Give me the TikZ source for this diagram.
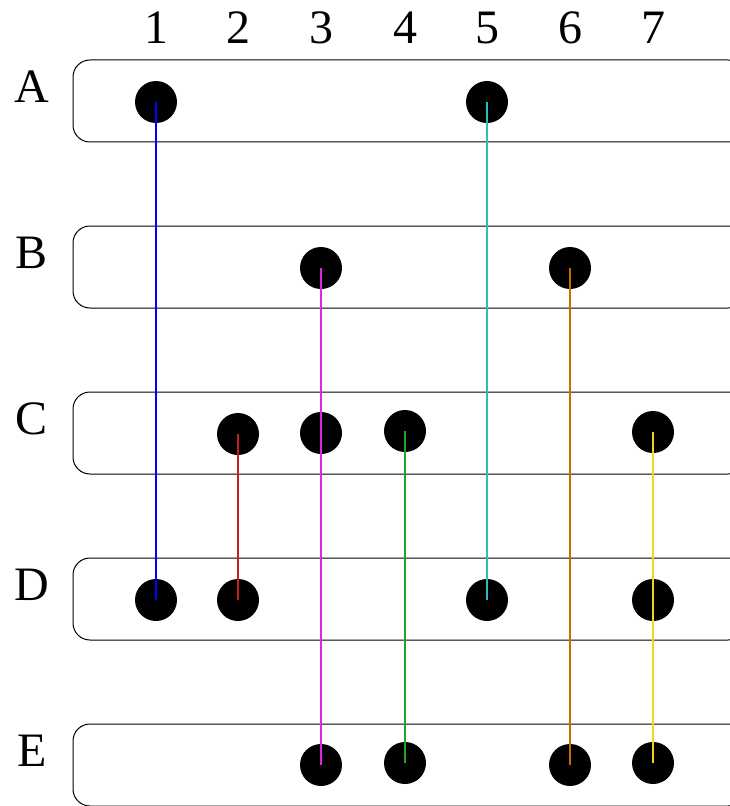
\documentclass[tikz,border=0pt]{standalone}
\usepackage{fontspec}
\setmainfont{Liberation Serif}
\usepackage{xcolor}

\begin{document}
\begin{tikzpicture}[x=0.75pt,y=0.75pt,yscale=-1,xscale=1,
  rowbox/.style={draw=black,line width=0.75pt,rounded corners=12.75pt},
  dot/.style={circle,fill=black,inner sep=0pt,minimum size=31.5pt},
  lbl/.style={inner sep=0.75pt,font=\fontsize{36}{40}\selectfont},
  link/.style={line width=0.9pt}]
\useasboundingbox (0,0) rectangle (730,806);

%Rounded Rect [rows A..E]
\foreach \y in {60,226,392,558,724}
  \draw [rowbox] (73,\y) rectangle (745,\y+82) ;

% Text Node [column numbers]
\foreach \n/\x in {1/156,2/238,3/321,4/405,5/487,6/570,7/653}
  \node [lbl] (c\n) at (\x,28) {\n};
% Text Node [row letters]
\foreach \r/\y in {A/87,B/253,C/419,D/585,E/751}
  \node [lbl] (r\r) at (32,\y) {\r};

%Shape: Circle
\node [dot] (A1) at (156,102) {};
\node [dot] (A5) at (487,102) {};
\node [dot] (B3) at (321,268) {};
\node [dot] (B6) at (570,268) {};
\node [dot] (C2) at (238,434) {};
\node [dot] (C3) at (321,433) {};
\node [dot] (C4) at (405,431) {};
\node [dot] (C7) at (653,432) {};
\node [dot] (D1) at (156,600) {};
\node [dot] (D2) at (238,600) {};
\node [dot] (D5) at (487,600) {};
\node [dot] (D7) at (653,600) {};
\node [dot] (E3) at (321,765) {};
\node [dot] (E4) at (405,763) {};
\node [dot] (E6) at (570,765) {};
\node [dot] (E7) at (653,763) {};

%Straight Lines
\draw [link,color={rgb, 255:red, 0; green, 0; blue, 255 }] (A1.center) -- (D1.center) ;
\draw [link,color={rgb, 255:red, 40; green, 190; blue, 190 }] (A5.center) -- (D5.center) ;
\draw [link,color={rgb, 255:red, 220; green, 40; blue, 220 }] (B3.center) -- (E3.center) ;
\draw [link,color={rgb, 255:red, 200; green, 110; blue, 0 }] (B6.center) -- (E6.center) ;
\draw [link,color={rgb, 255:red, 200; green, 30; blue, 30 }] (C2.center) -- (D2.center) ;
\draw [link,color={rgb, 255:red, 40; green, 160; blue, 40 }] (C4.center) -- (E4.center) ;
\draw [link,color={rgb, 255:red, 250; green, 210; blue, 30 }] (C7.center) -- (E7.center) ;

\end{tikzpicture}
\end{document}
